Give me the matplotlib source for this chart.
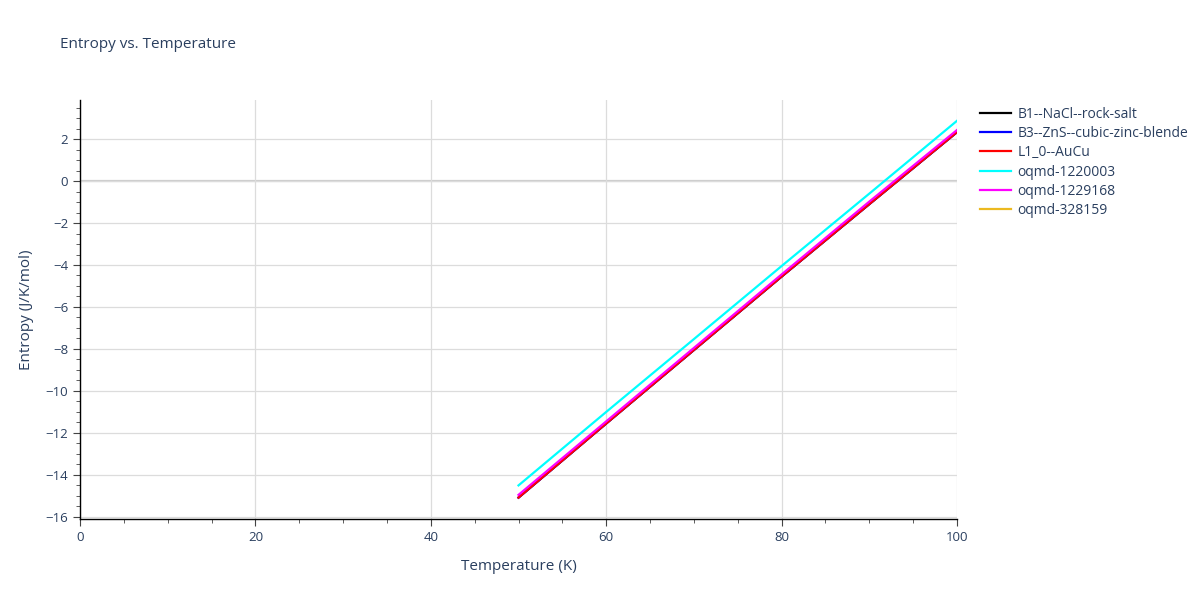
import matplotlib
matplotlib.use("Agg")
import matplotlib.pyplot as plt
from matplotlib.ticker import MultipleLocator, FuncFormatter

plt.rcParams["font.family"] = ["Open Sans", "DejaVu Sans"]

temps = [50, 60, 70, 80, 90, 100]
s_b1 = [-15.08, -11.55, -8.05, -4.55, -1.1, 2.33]
s_b3 = [-15.08, -11.55, -8.05, -4.55, -1.1, 2.33]
s_l10 = [-15.08, -11.55, -8.05, -4.55, -1.1, 2.33]
s_1220003 = [-14.5, -11.0, -7.53, -4.05, -0.6, 2.87]
s_1229168 = [-14.95, -11.45, -7.95, -4.45, -0.98, 2.43]
s_328159 = []
t_328159 = []

series = [
    ("B1--NaCl--rock-salt", temps, s_b1, "#000000"),
    ("B3--ZnS--cubic-zinc-blende", temps, s_b3, "#0000ff"),
    ("L1_0--AuCu", temps, s_l10, "#ff0000"),
    ("oqmd-1220003", temps, s_1220003, "#00ffff"),
    ("oqmd-1229168", temps, s_1229168, "#ff00ff"),
    ("oqmd-328159", t_328159, s_328159, "#ecb920"),
]

txt = "#2a3f5f"
fig = plt.figure(figsize=(12, 6), dpi=100)
ax = fig.add_axes([80/1200, 1-519/600, 877/1200, 419/600])

for name, x, y, c in series:
    ax.plot(x, y, color=c, lw=1.6, label=name)

ax.set_xlim(0, 100)
ax.set_ylim(-16.1, 3.86)
ax.xaxis.set_major_locator(MultipleLocator(20))
ax.xaxis.set_minor_locator(MultipleLocator(5))
ax.yaxis.set_major_locator(MultipleLocator(2))
ax.yaxis.set_minor_locator(MultipleLocator(0.5))
ax.grid(True, which="major", color="#dcdcdc", lw=0.9)
ax.axhline(0, color="#cccccc", lw=1.6, zorder=0.5)
ax.set_axisbelow(True)
for s in ["top", "right"]:
    ax.spines[s].set_visible(False)
for s in ["left", "bottom"]:
    ax.spines[s].set_color("black")
    ax.spines[s].set_linewidth(1)
ax.tick_params(which="major", length=5, color="#444444", labelcolor=txt, labelsize=9.5, direction="out")
ax.tick_params(which="minor", length=3, color="#444444", direction="out")

ax.yaxis.set_major_formatter(FuncFormatter(lambda v, p: f"{v:.0f}".replace("-", "\u2212")))
ax.set_xlabel("Temperature (K)", color=txt, fontsize=11, labelpad=11)
ax.set_ylabel("Entropy (J/K/mol)", color=txt, fontsize=11, labelpad=8)
fig.text(60/1200, 1-45/600, "Entropy vs. Temperature", color=txt, fontsize=11, va="center", ha="left")

leg = ax.legend(loc="upper left", bbox_to_anchor=(980/1200, 1-107/600), bbox_transform=fig.transFigure,
                frameon=False, fontsize=10, handlelength=2.2, labelspacing=0.3, borderaxespad=0,
                handletextpad=0.5, borderpad=0)
for t in leg.get_texts():
    t.set_color(txt)

fig.savefig("out.png", dpi=100)
